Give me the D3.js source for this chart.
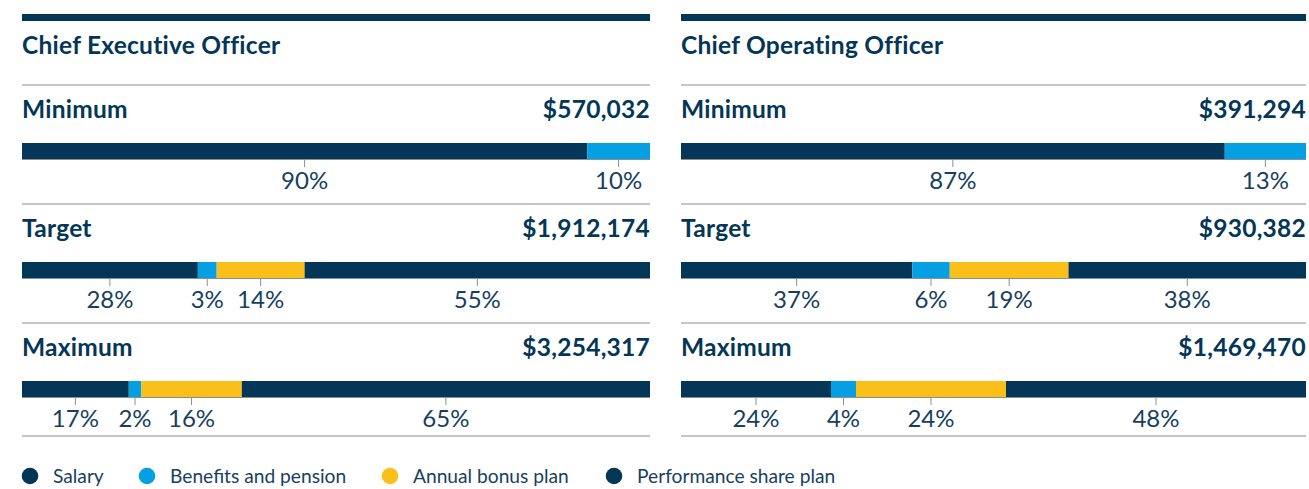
<!DOCTYPE html>
<html>
<head>
<meta charset="utf-8">
<script src="https://cdn.jsdelivr.net/npm/d3@7"></script>
<style>
  html, body { margin: 0; padding: 0; background: #fff; }
  svg { display: block; font-family: Lato, "Open Sans", sans-serif; }
</style>
</head>
<body>
<svg id="chart" width="1309" height="489"></svg>
<script>
// Remuneration mix by executive role and performance scenario
const roles = ["Chief Executive Officer", "Chief Operating Officer"];
const scenarios = ["Minimum", "Target", "Maximum"];
const components = ["Salary", "Benefits and pension", "Annual bonus plan", "Performance share plan"];

// Total package (USD) per scenario
const ceoTotals = [570032, 1912174, 3254317];
const cooTotals = [391294, 930382, 1469470];

// Share of package (%) per component: salary, benefits, bonus, PSP
const ceoShares = [
  [90, 10, 0, 0],
  [28, 3, 14, 55],
  [17, 2, 16, 65]
];
const cooShares = [
  [87, 13, 0, 0],
  [37, 6, 19, 38],
  [24, 4, 24, 48]
];

const colors = ["#033657", "#04a0e3", "#fbbf1a", "#033657"];
const navy = "#033657";
const rule = "#b3b3b3";

const panels = [
  { role: roles[0], totals: ceoTotals, shares: ceoShares, x0: 22, x1: 650 },
  { role: roles[1], totals: cooTotals, shares: cooShares, x0: 681, x1: 1306 }
];

const svg = d3.select("#chart");
const money = d3.format("$,");

// vertical layout of the three scenario rows
const rowY = d3.scaleLinear().domain([0, 1]).range([0, 119]);
const labelBase = 118, barTop = 143, barH = 16, pctBase = 189;
const sepY = [85, 204, 323, 436];
const headSize = 24.5, headSpacing = 0.25;

const stack = d3.stack().keys(d3.range(components.length));

panels.forEach(p => {
  const g = svg.append("g");
  const x = d3.scaleLinear().domain([0, 100]).range([p.x0, p.x1]);

  // heavy top rule
  g.append("rect")
    .attr("x", p.x0).attr("y", 14)
    .attr("width", p.x1 - p.x0).attr("height", 7)
    .attr("fill", navy);

  g.append("text")
    .attr("x", p.x0).attr("y", 54)
    .attr("fill", navy)
    .attr("font-size", headSize).attr("font-weight", 700)
    .attr("letter-spacing", headSpacing)
    .text(p.role);

  // separators between rows
  g.selectAll("line.sep").data(sepY).join("line")
    .attr("class", "sep")
    .attr("x1", p.x0).attr("x2", p.x1)
    .attr("y1", d => d).attr("y2", d => d)
    .attr("stroke", rule).attr("stroke-width", 1.5);

  const series = stack(p.shares);

  scenarios.forEach((s, i) => {
    const dy = rowY(i);
    const row = g.append("g").attr("transform", `translate(0,${dy})`);

    row.append("text")
      .attr("x", p.x0).attr("y", labelBase)
      .attr("fill", navy)
      .attr("font-size", headSize).attr("font-weight", 700)
      .attr("letter-spacing", headSpacing)
      .text(s);

    row.append("text")
      .attr("x", p.x1).attr("y", labelBase)
      .attr("text-anchor", "end")
      .attr("fill", navy)
      .attr("font-size", headSize).attr("font-weight", 700)
      .attr("letter-spacing", headSpacing)
      .text(money(p.totals[i]));

    const segs = series.map((ser, k) => ({ k, v: p.shares[i][k], a: ser[i][0], b: ser[i][1] }))
      .filter(d => d.v > 0);

    row.selectAll("rect.seg").data(segs).join("rect")
      .attr("class", "seg")
      .attr("x", d => x(d.a))
      .attr("y", barTop)
      .attr("width", d => x(d.b) - x(d.a))
      .attr("height", barH)
      .attr("fill", d => colors[d.k]);

    // baseline under the bar
    row.append("line")
      .attr("x1", p.x0).attr("x2", p.x1)
      .attr("y1", barTop + barH + 0.5).attr("y2", barTop + barH + 0.5)
      .attr("stroke", "#8a8f94").attr("stroke-width", 1);

    // ticks and percentage labels at segment centres
    row.selectAll("line.tick").data(segs).join("line")
      .attr("class", "tick")
      .attr("x1", d => x((d.a + d.b) / 2)).attr("x2", d => x((d.a + d.b) / 2))
      .attr("y1", barTop + barH).attr("y2", barTop + barH + 8)
      .attr("stroke", "#8a8f94").attr("stroke-width", 1);

    row.selectAll("text.pct").data(segs).join("text")
      .attr("class", "pct")
      .attr("x", d => x((d.a + d.b) / 2))
      .attr("y", pctBase)
      .attr("text-anchor", "middle")
      .attr("fill", "#173f5f")
      .attr("font-size", 24)
      .text(d => d.v + "%");
  });
});

// legend
const legendX = [30, 147, 390, 614];
const legend = svg.append("g");
components.forEach((c, k) => {
  legend.append("circle")
    .attr("cx", legendX[k]).attr("cy", 476).attr("r", 8.3)
    .attr("fill", colors[k]);
  legend.append("text")
    .attr("x", legendX[k] + 23).attr("y", 483)
    .attr("fill", "#173f5f")
    .attr("font-size", 19.2)
    .text(c);
});
</script>
</body>
</html>
